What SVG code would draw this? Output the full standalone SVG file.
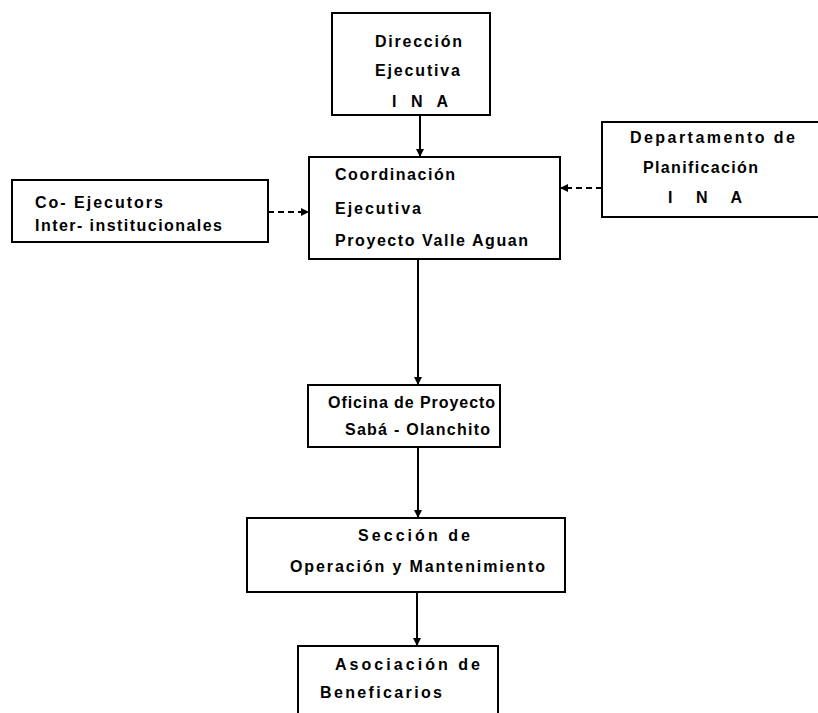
<svg xmlns="http://www.w3.org/2000/svg" width="818" height="713" viewBox="0 0 818 713">
<style>
.box{fill:#fff;stroke:#000;stroke-width:2}
.t{font-family:"Liberation Sans",Arial,sans-serif;font-weight:bold;font-size:16px;fill:#000}
.c{stroke:#000;stroke-width:2;fill:none}
.d{stroke:#000;stroke-width:1.8;fill:none;stroke-dasharray:6,4}
</style>
<defs>
<marker id="ah" markerWidth="8" markerHeight="8" refX="7" refY="4" orient="auto" markerUnits="userSpaceOnUse">
<path d="M0,0 L8,4 L0,8 z" fill="#000"/>
</marker>
</defs>
<rect width="818" height="713" fill="#fff"/>
<g id="direccion">
<rect class="box" x="332" y="13" width="158" height="102"/>
<text class="t" x="375" y="47" textLength="87" lengthAdjust="spacing">Dirección</text>
<text class="t" x="375" y="76" textLength="85" lengthAdjust="spacing">Ejecutiva</text>
<text class="t" x="392" y="107" textLength="56" lengthAdjust="spacing">I N A</text>
</g>
<g id="coordinacion">
<rect class="box" x="309" y="157" width="251" height="102"/>
<text class="t" x="335" y="180" textLength="120" lengthAdjust="spacing">Coordinación</text>
<text class="t" x="335" y="214" textLength="86" lengthAdjust="spacing">Ejecutiva</text>
<text class="t" x="335" y="246" textLength="193" lengthAdjust="spacing">Proyecto Valle Aguan</text>
</g>
<g id="coejecutors">
<rect class="box" x="12" y="180" width="256" height="62"/>
<text class="t" x="35" y="208" textLength="128" lengthAdjust="spacing">Co- Ejecutors</text>
<text class="t" x="35" y="231" textLength="187" lengthAdjust="spacing">Inter- institucionales</text>
</g>
<g id="departamento">
<rect class="box" x="602" y="122" width="230" height="95"/>
<text class="t" x="630" y="143" textLength="165" lengthAdjust="spacing">Departamento de</text>
<text class="t" x="643" y="173" textLength="115" lengthAdjust="spacing">Planificación</text>
<text class="t" x="668" y="203" textLength="74" lengthAdjust="spacing">I N A</text>
</g>
<g id="oficina">
<rect class="box" x="308" y="385" width="192" height="62"/>
<text class="t" x="328" y="408" textLength="167" lengthAdjust="spacing">Oficina de Proyecto</text>
<text class="t" x="345" y="435" textLength="145" lengthAdjust="spacing">Sabá - Olanchito</text>
</g>
<g id="seccion">
<rect class="box" x="247" y="518" width="318" height="74"/>
<text class="t" x="358" y="541" textLength="112" lengthAdjust="spacing">Sección de</text>
<text class="t" x="290" y="572" textLength="255" lengthAdjust="spacing">Operación y Mantenimiento</text>
</g>
<g id="asociacion">
<rect class="box" x="298" y="646" width="200" height="80"/>
<text class="t" x="335" y="670" textLength="145" lengthAdjust="spacing">Asociación de</text>
<text class="t" x="320" y="698" textLength="122" lengthAdjust="spacing">Beneficarios</text>
</g>
<g id="connectors">
<line class="c" x1="420" y1="115" x2="420" y2="156" marker-end="url(#ah)"/>
<line class="c" x1="418" y1="259" x2="418" y2="384" marker-end="url(#ah)"/>
<line class="c" x1="418" y1="447" x2="418" y2="517" marker-end="url(#ah)"/>
<line class="c" x1="417" y1="592" x2="417" y2="645" marker-end="url(#ah)"/>
<line class="d" x1="268" y1="212" x2="308" y2="212" marker-end="url(#ah)"/>
<line class="d" x1="602" y1="188" x2="561" y2="188" marker-end="url(#ah)"/>
</g>
</svg>
